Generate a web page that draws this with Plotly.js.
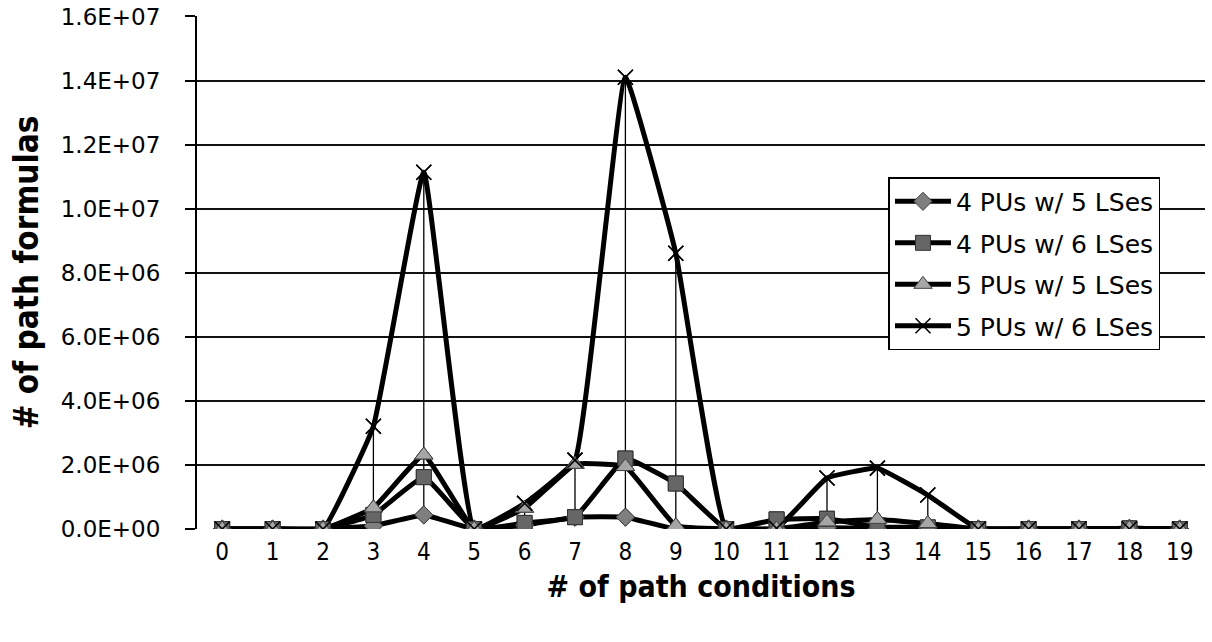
<!DOCTYPE html>
<html>
<head>
<meta charset="utf-8">
<script src="https://cdn.plot.ly/plotly-3.0.1.min.js"></script>
<style>
html,body{margin:0;padding:0;background:#fff;}
#chart{width:1212px;height:642px;}
</style>
</head>
<body>
<div id="chart"></div>
<script>
// ---- data ----
const conditions = [0,1,2,3,4,5,6,7,8,9,10,11,12,13,14,15,16,17,18,19];
const seriesNames = ["4 PUs w/ 5 LSes","4 PUs w/ 6 LSes","5 PUs w/ 5 LSes","5 PUs w/ 6 LSes"];
const pu4ls5 = [0,0,0,0.10e6,0.44e6,0,0.12e6,0.37e6,0.37e6,0,0,0,0.04e6,0.02e6,0,0,0,0,0.02e6,0];
const pu4ls6 = [0,0,0,0.44e6,1.62e6,0,0.19e6,0.37e6,2.20e6,1.42e6,0,0.30e6,0.32e6,0.06e6,0.05e6,0,0,0,0.02e6,0];
const pu5ls5 = [0,0,0,0.66e6,2.31e6,0,0.65e6,2.02e6,1.95e6,0.10e6,0,0,0.22e6,0.30e6,0.17e6,0,0,0,0.02e6,0];
const pu5ls6 = [0,0,0,3.21e6,11.14e6,0,0.80e6,2.15e6,14.10e6,8.61e6,0,0.02e6,1.59e6,1.90e6,1.06e6,0,0,0,0,0];
const yTickVals = [0,2e6,4e6,6e6,8e6,10e6,12e6,14e6,16e6];
const yTickText = ["0.0E+00","2.0E+06","4.0E+06","6.0E+06","8.0E+06","1.0E+07","1.2E+07","1.4E+07","1.6E+07"];
const xTickText = conditions.map(String);

const allSeries = [pu4ls5, pu4ls6, pu5ls5, pu5ls6];
const markerStyles = [
  {symbol:"diamond", size:14, color:"#7f7f7f", line:{color:"#404040", width:1}},
  {symbol:"square", size:15, color:"#666666", line:{color:"#333333", width:1}},
  {symbol:"triangle-up", size:16, color:"#a6a6a6", line:{color:"#404040", width:1}},
  {symbol:"x-thin-open", size:15, color:"#000000", line:{color:"#000000", width:1.5}}
];

// high-low lines (max to min of the series at each category)
const hlX = [], hlY = [];
conditions.forEach((c, i) => {
  const vals = allSeries.map(s => s[i]);
  hlX.push(c, c, null);
  hlY.push(Math.max(...vals), Math.min(...vals), null);
});

const traces = [];
traces.push({x: hlX, y: hlY, mode: "lines", line: {color: "#000", width: 1.3}, showlegend: false, hoverinfo: "skip"});
allSeries.forEach((s, k) => {
  traces.push({
    x: conditions, y: s, name: seriesNames[k], mode: "lines+markers", legendgroup: "g" + k,
    line: {color: "#000", width: 5, shape: "spline", smoothing: 0.3},
    marker: markerStyles[k]
  });
});
allSeries.forEach((s, k) => {
  traces.push({x: conditions, y: s, mode: "markers", marker: markerStyles[k], showlegend: false, hoverinfo: "skip"});
});

const layout = {
  width: 1212, height: 642,
  margin: {l: 197, r: 7, t: 16, b: 113},
  paper_bgcolor: "#fff", plot_bgcolor: "#fff",
  showlegend: true,
  legend: {
    x: 0.686, y: 0.686, xanchor: "left", yanchor: "top",
    bgcolor: "#fff", bordercolor: "#000", borderwidth: 1.5,
    font: {family: "DejaVu Sans, sans-serif", size: 25, color: "#000"},
    traceorder: "grouped", tracegroupgap: 6, itemwidth: 56
  },
  xaxis: {
    range: [-0.5, 19.5], tickmode: "array", tickvals: conditions, ticktext: xTickText,
    showgrid: false, zeroline: false, ticks: "", showline: false,
    tickfont: {family: "Liberation Sans Narrow, DejaVu Sans Condensed, sans-serif", size: 24, color: "#000"},
    ticklabelstandoff: 6,
    title: {text: "<b># of path conditions</b>", standoff: 10,
            font: {family: "Liberation Sans Narrow, DejaVu Sans Condensed, sans-serif", size: 30, color: "#000"}},
    fixedrange: true
  },
  yaxis: {
    range: [0, 1.6015e7], tickmode: "array", tickvals: yTickVals, ticktext: yTickText,
    showgrid: true, gridcolor: "#111", gridwidth: 2, zeroline: false,
    showline: true, linecolor: "#000", linewidth: 2,
    ticks: "outside", ticklen: 10, tickcolor: "#000", tickwidth: 2,
    ticklabelstandoff: 20,
    tickfont: {family: "DejaVu Sans, sans-serif", size: 23, color: "#000"},
    title: {text: "<b># of path formulas</b>", standoff: 12,
            font: {family: "Liberation Sans Narrow, DejaVu Sans Condensed, sans-serif", size: 33, color: "#000"}},
    fixedrange: true
  }
};

Plotly.newPlot("chart", traces, layout, {displayModeBar: false, staticPlot: true});
</script>
</body>
</html>
